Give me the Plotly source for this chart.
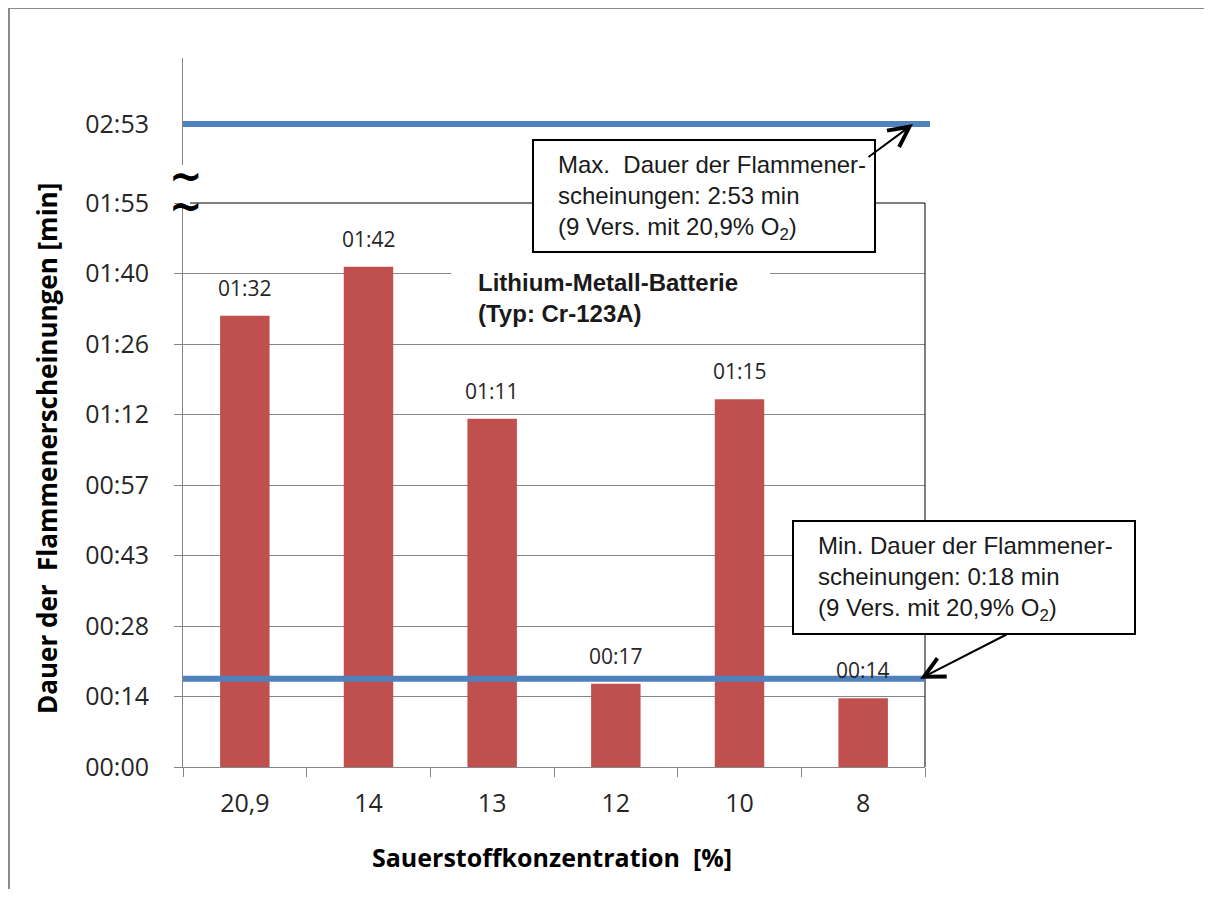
import plotly.graph_objects as go

# ---------------- data ----------------
categories = ["20,9", "14", "13", "12", "10", "8"]          # Sauerstoffkonzentration [%]
durations_s = [92, 102, 71, 17, 75, 14]                      # Dauer in Sekunden
duration_labels = ["01:32", "01:42", "01:11", "00:17", "01:15", "00:14"]

ytick_vals = [0, 14.375, 28.75, 43.125, 57.5, 71.875, 86.25, 100.625, 115]
ytick_text = ["00:00", "00:14", "00:28", "00:43", "00:57", "01:12", "01:26", "01:40", "01:55"]

max_duration_s = 173     # 2:53 min
max_label = "02:53"
min_duration_s = 18      # 0:18 min

# ---------------- layout geometry (reference pixel coords) ----------------
OFF = 8                      # page body margin offset
W, H = 1212 - OFF, 897 - 2 * OFF
L, R, T, B = 183, 925, 58, 767
PW, PH = R - L, B - T


def px(xp):
    return (xp - L) / PW


def py(yp):
    return (B - yp) / PH


AX_GRAY = "#868686"
TXT = "#262626"
BAR = "#C0504D"
BLUE = "#4F81BD"
CAL = "Open Sans, Lato, sans-serif"
ARIAL = "Liberation Sans, Arial, sans-serif"

fig = go.Figure()
fig.add_trace(go.Bar(x=categories, y=durations_s, marker_color=BAR,
                     marker_line_width=0, hoverinfo="skip", showlegend=False))

main_top = py(203)
upper_bottom = py(165)

fig.update_layout(
    width=W, height=H,
    margin=dict(l=L - OFF, r=W - (R - OFF), t=T - OFF, b=H - (B - OFF), autoexpand=False),
    paper_bgcolor="white", plot_bgcolor="white",
    bargap=0.6,
    showlegend=False,
    font=dict(family=CAL, color=TXT),
    xaxis=dict(type="category", categoryorder="array", categoryarray=categories,
               range=[-0.5, len(categories) - 0.5], autorange=False,
               showline=True, linecolor=AX_GRAY, linewidth=1,
               ticks="outside", ticklen=9, tickcolor=AX_GRAY, tickson="boundaries",
               showgrid=False, tickfont=dict(family=CAL, size=25, color=TXT), tickangle=0,
               ticklabelstandoff=14, anchor="y"),
    yaxis=dict(domain=[0, main_top], range=[0, 115], tickvals=ytick_vals, ticktext=ytick_text,
               showline=True, linecolor=AX_GRAY, linewidth=1,
               ticks="outside", ticklen=8, tickcolor=AX_GRAY,
               showgrid=True, gridcolor=AX_GRAY, gridwidth=1, zeroline=False,
               tickfont=dict(family=CAL, size=25, color=TXT), ticklabelstandoff=20),
    yaxis2=dict(domain=[upper_bottom, 1], range=[160, 194], anchor="x",
                tickvals=[max_duration_s], ticktext=[max_label],
                showline=True, linecolor=AX_GRAY, linewidth=1,
                ticks="outside", ticklen=8, tickcolor="rgba(0,0,0,0)",
                showgrid=False, zeroline=False,
                tickfont=dict(family=CAL, size=25, color=TXT), ticklabelstandoff=20),
)

shapes = []
# plot frame (top and right, black)
shapes.append(dict(type="line", xref="paper", yref="paper", x0=px(190), x1=1, y0=main_top, y1=main_top,
                   line=dict(color="black", width=1), layer="above"))
shapes.append(dict(type="line", xref="paper", yref="paper", x0=1, x1=1, y0=0, y1=main_top,
                   line=dict(color="black", width=1), layer="above"))
# max / min reference lines
shapes.append(dict(type="line", xref="paper", yref="y2", x0=0, x1=px(930), y0=max_duration_s, y1=max_duration_s,
                   line=dict(color=BLUE, width=6), layer="above"))
shapes.append(dict(type="line", xref="paper", yref="y", x0=0, x1=px(925), y0=min_duration_s, y1=min_duration_s,
                   line=dict(color=BLUE, width=6), layer="above"))
# white background behind chart title
shapes.append(dict(type="rect", xref="paper", yref="paper", x0=px(451), x1=px(770), y0=py(330), y1=py(262),
                   fillcolor="white", line=dict(width=0), layer="above"))
# callout boxes
shapes.append(dict(type="rect", xref="paper", yref="paper", x0=px(533), x1=px(875), y0=py(252), y1=py(140),
                   fillcolor="white", line=dict(color="black", width=2), layer="above"))
shapes.append(dict(type="rect", xref="paper", yref="paper", x0=px(793), x1=px(1135), y0=py(634), y1=py(521),
                   fillcolor="white", line=dict(color="black", width=2), layer="above"))
# outer chart border (left and top)
shapes.append(dict(type="line", xref="paper", yref="paper", x0=px(8.5), x1=px(8.5), y0=py(7), y1=py(900),
                   line=dict(color="#8a8a8a", width=3), layer="above"))
shapes.append(dict(type="line", xref="paper", yref="paper", x0=px(7), x1=px(1215), y0=py(7.5), y1=py(7.5),
                   line=dict(color="#8a8a8a", width=3), layer="above"))
fig.update_layout(shapes=shapes)

ann = []
# value labels above bars
for i, (v, lab) in enumerate(zip(durations_s, duration_labels)):
    ann.append(dict(x=i, y=v, xref="x", yref="y", text=lab, showarrow=False,
                    yanchor="middle", yshift=28, font=dict(family=CAL, size=21, color=TXT)))

# chart title
ann.append(dict(x=px(476), y=py(298), xref="paper", yref="paper", xanchor="left", yanchor="middle",
                align="left", showarrow=False,
                text="<b>Lithium-Metall-Batterie<br>(Typ: Cr-123A)</b>",
                font=dict(family=ARIAL, size=24, color="#1a1a1a")))

# callout texts
ann.append(dict(x=px(556), y=py(197), xref="paper", yref="paper", xanchor="left", yanchor="middle",
                align="left", showarrow=False,
                text="Max.  Dauer der Flammener-<br>scheinungen: 2:53 min<br>(9 Vers. mit 20,9% O<sub>2</sub>)",
                font=dict(family=ARIAL, size=24, color="#1a1a1a")))
ann.append(dict(x=px(816), y=py(578), xref="paper", yref="paper", xanchor="left", yanchor="middle",
                align="left", showarrow=False,
                text="Min. Dauer der Flammener-<br>scheinungen: 0:18 min<br>(9 Vers. mit 20,9% O<sub>2</sub>)",
                font=dict(family=ARIAL, size=24, color="#1a1a1a")))

# arrows
ann.append(dict(x=px(913), y=max_duration_s, xref="paper", yref="y2", text="", showarrow=True,
                ax=-46, ay=34, arrowhead=5, arrowsize=2, arrowwidth=2, arrowcolor="black"))
ann.append(dict(x=px(920), y=min_duration_s, xref="paper", yref="y", text="", showarrow=True,
                ax=88, ay=-45, arrowhead=5, arrowsize=2, arrowwidth=2, arrowcolor="black"))

# axis break marks
for yy in (176, 206):
    ann.append(dict(x=px(186), y=py(yy), xref="paper", yref="paper", text="<b>~</b>", showarrow=False,
                    xanchor="center", yanchor="middle", font=dict(family="DejaVu Sans", size=40, color="black")))

# axis titles
ann.append(dict(x=px(552), y=py(857), xref="paper", yref="paper", showarrow=False,
                text="<b>Sauerstoffkonzentration  [%]</b>", xanchor="center", yanchor="middle",
                font=dict(family=CAL, size=25, color="black")))
ann.append(dict(x=px(47), y=py(449), xref="paper", yref="paper", showarrow=False, textangle=-90,
                text="<b>Dauer der  Flammenerscheinungen [min]</b>", xanchor="center", yanchor="middle",
                font=dict(family=CAL, size=26, color="black")))

fig.update_layout(annotations=ann)
fig.write_html("out.html")
